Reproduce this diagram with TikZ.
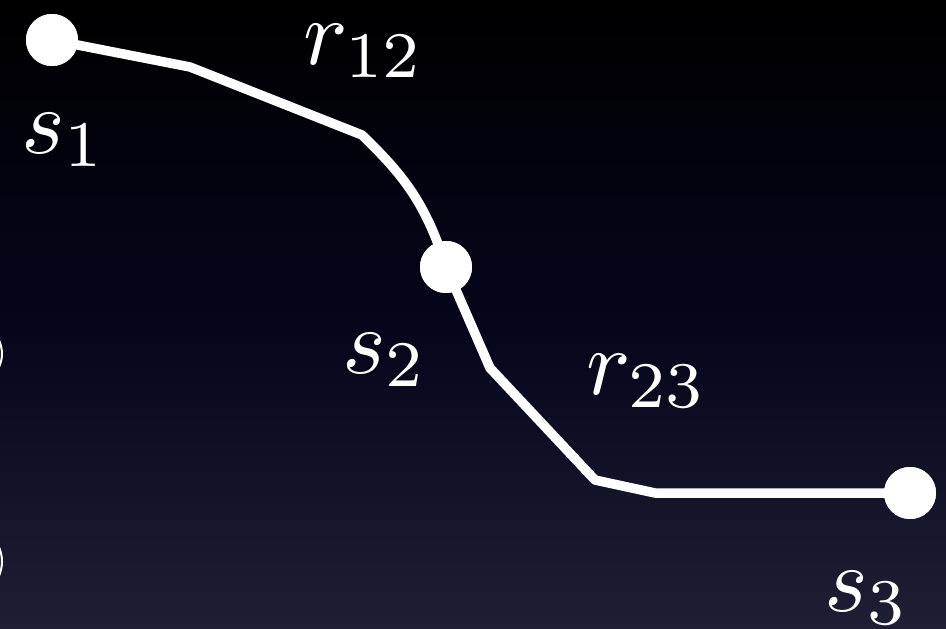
\documentclass[tikz,border=0pt]{standalone}
\usepackage{graphicx}
\begin{document}
\begin{tikzpicture}[x=1pt,y=-1pt,
  dot/.style={circle,fill=white,minimum size=52pt,inner sep=0pt},
  lbl/.style={text=white,inner sep=0pt},
  wire/.style={draw=white,line width=9.5pt,line join=round}]
\definecolor{bgtop}{RGB}{0,0,0}
\definecolor{bgmid}{RGB}{5,5,28}
\definecolor{bgbot}{RGB}{30,30,52}
\newcommand{\biglbl}[1]{\scalebox{9.3}{$#1$}}
\fill[top color=bgtop,bottom color=bgmid] (0,0) rectangle (946,330);
\fill[top color=bgmid,bottom color=bgbot] (0,329.5) rectangle (946,629);
\useasboundingbox (0,0) rectangle (946,629);
% partial marks at left edge
\draw[white,line width=2pt] (-1,340) .. controls (3,350) and (3,358) .. (-1,367);
\draw[white,line width=2pt] (-1,547) .. controls (3,557) and (3,566) .. (-1,576);
% route
\coordinate (a1) at (190,67);
\coordinate (a2) at (362,135);
\coordinate (b1) at (490,368);
\coordinate (b2) at (595,480);
\coordinate (b3) at (655,493);
\node[dot] (s1) at (52,40) {};
\node[dot] (s2) at (446,267) {};
\node[dot] (s3) at (910,493) {};
\draw[wire] (s1.center) -- (a1) -- (a2) .. controls (400,172) and (425,200) .. (s2.center);
\draw[wire] (s2.center) -- (b1) -- (b2) -- (b3) -- (s3.center);
\node[dot] at (s1) {};
\node[dot] at (s2) {};
\node[dot] at (s3) {};
\node[lbl] (l12) at (364,51) {\biglbl{r_{12}}};
\node[lbl] (ls1) at (64,140) {\biglbl{s_1}};
\node[lbl] (ls2) at (385,360) {\biglbl{s_2}};
\node[lbl] (l23) at (647,381) {\biglbl{r_{23}}};
\node[lbl] (ls3) at (867,598) {\biglbl{s_3}};
\end{tikzpicture}
\end{document}
